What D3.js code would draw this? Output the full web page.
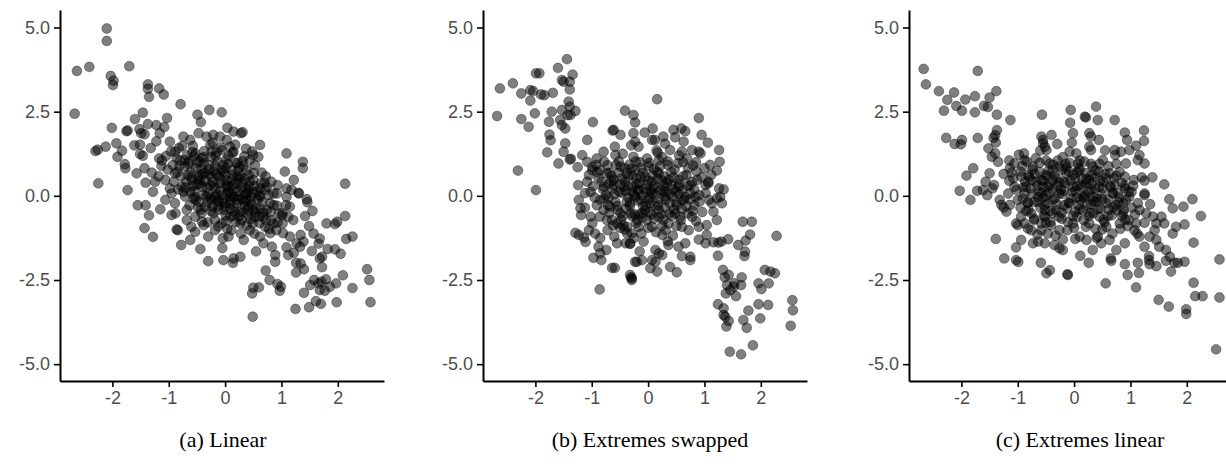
<!DOCTYPE html>
<html>
<head>
<meta charset="utf-8">
<script src="https://cdn.jsdelivr.net/npm/d3@7"></script>
<style>
  body { margin: 0; background: #fff; }
  .axis text { font-family: "Liberation Sans", Arial, sans-serif; font-size: 18px; fill: #4d4d4d; }
  .axis path, .axis line { stroke: #000; }
  .caption { font-family: "Liberation Serif", "DejaVu Serif", serif; font-size: 22px; fill: #000; }
</style>
</head>
<body>
<div id="chart"></div>
<script>
// values, [x, y]
const linearPts = [
[-2.10,4.97],[-2.10,4.60],[-2.63,3.71],[-2.41,3.83],[-2.03,3.56],[-1.98,3.42],[-1.99,3.29],[-1.70,3.85],[-1.37,3.31],[-1.37,3.18],[-1.35,2.94],[-1.17,3.19],[-1.09,3.01],[-0.79,2.72],[-2.67,2.44],[-1.46,2.47],[-1.60,2.28],[-1.03,2.31],[-0.49,2.41],[-0.43,2.19],[-0.28,2.55],[-0.06,2.48],[0.04,2.02],[-2.01,2.02],[-1.73,1.94],[-1.75,1.92],[-1.52,1.98],[-1.49,1.86],[-1.43,1.83],[-1.37,2.13],[-1.22,2.10],[-1.08,2.04],[-1.16,1.86],[-1.93,1.56],[-1.83,1.34],[-1.91,1.16],[-2.12,1.46],[-2.26,1.37],[-2.30,1.33],[-1.61,1.50],[-1.51,1.52],[-1.51,1.24],[-1.46,1.19],[-1.78,0.94],[-1.77,0.82],[-2.25,0.37],[-1.73,0.17],[-1.57,0.67],[-1.43,0.82],[-1.30,0.69],[-1.41,0.39],[-1.24,0.42],[-1.17,1.11],[-1.05,1.18],[-1.13,0.89],[-1.06,0.47],[-0.98,1.61],[-0.89,1.31],[-0.74,1.76],[-0.62,1.66],[-0.47,1.86],[-0.33,1.76],[-0.21,1.81],[-0.09,1.76],[-0.89,0.67],[-0.71,1.06],[-0.53,1.26],[-0.38,0.96],[-0.24,1.16],[-0.06,1.36],[-0.77,0.27],[-0.59,0.47],[-0.41,0.27],[-0.24,0.57],[-0.06,0.77],[0.06,0.27],[-0.95,0.07],[-0.53,-0.03],[-0.18,-0.03],
[0.15,1.91],[0.28,1.86],[0.31,1.89],[0.03,1.66],[0.09,1.46],[0.15,1.31],[0.37,1.40],[0.62,1.51],[0.50,1.21],[0.59,1.16],[0.44,1.06],[0.31,1.03],[1.09,1.26],[1.38,1.01],[1.38,0.82],[1.06,0.72],[1.22,0.47],[0.65,0.69],[2.13,0.36],[0.93,0.32],[1.09,0.22],[1.30,0.09],[1.45,-0.10],[0.86,0.07],[0.38,0.77],[0.21,0.57],[0.03,0.27],[0.50,0.47],[0.62,0.22],[0.74,0.27],[0.09,-0.03],[0.38,0.07],
[-1.55,-0.28],[-1.41,-0.28],[-1.15,-0.40],[-0.95,-0.57],[-1.43,-0.96],[-1.28,-1.22],[-0.84,-1.02],[-0.86,-1.00],[-0.78,-1.46],[-0.62,-1.31],[-0.60,-0.92],[-0.44,-1.58],[-0.30,-1.94],[-0.03,-1.91],[-0.53,-1.07],[-0.38,-0.87],[-0.30,-1.21],[-0.68,-0.42],[-0.53,-0.62],[-0.41,-0.77],[-1.06,-0.12],[-0.89,-0.22],[-0.71,-0.02],[-0.18,-1.02],[-0.06,-0.82],[0.06,-1.21],[-0.12,-0.42],[-0.24,-0.12],[0.00,-0.22],[-0.56,-0.08],[-0.35,-0.32],
[-0.04,-1.26],[0.14,-1.99],[0.15,-1.86],[0.27,-1.81],[1.31,0.07],[1.46,-0.19],[1.42,-0.60],[1.15,-0.32],[1.02,-0.52],[1.21,-0.72],[1.49,-0.90],[1.57,-1.12],[1.68,-1.27],[1.66,-1.42],[1.54,-1.64],[1.68,-1.86],[1.72,-1.81],[1.80,-0.82],[1.95,-0.84],[1.99,-0.77],[2.13,-0.60],[2.15,-1.28],[2.26,-1.21],[1.82,-1.58],[1.95,-1.59],[1.34,-1.16],[1.39,-1.36],[1.33,-1.51],[1.22,-1.69],[1.26,-1.99],[1.34,-2.01],[1.40,-2.18],[1.26,-2.28],[1.09,-1.53],[1.12,-1.76],[0.89,-1.76],[0.89,-1.96],[0.72,-2.22],[0.79,-2.50],[0.93,-2.62],[0.99,-2.70],[0.97,-2.82],[0.50,-2.73],[0.48,-2.90],[0.60,-2.72],[0.49,-3.59],[1.25,-3.36],[1.40,-2.88],[1.49,-3.31],[1.61,-3.13],[1.70,-3.21],[1.51,-2.65],[1.58,-2.50],[1.66,-2.60],[1.71,-2.55],[1.79,-2.48],[1.68,-2.80],[1.77,-2.82],[1.86,-2.70],[1.97,-2.60],[2.09,-2.36],[1.98,-3.16],[2.26,-2.74],[2.52,-2.18],[2.56,-2.50],[2.58,-3.16],[0.15,-0.03],[0.38,-0.12],[0.62,-0.03],[0.80,-0.22],[0.92,0.07],[1.09,-0.03],[0.50,-0.42],[0.68,-0.62],[0.86,-0.82],[1.03,-1.11],[1.15,-1.21],[1.27,-1.41],[0.27,-0.82],[0.09,-0.62],[0.44,-1.02],[0.62,-1.21],[0.80,-1.11],[0.33,-1.31],[0.68,-1.41],[0.83,-1.51],
[-0.82,1.42],[-0.68,1.21],[-0.57,1.48],[-0.46,1.02],[-0.37,1.33],[-0.26,1.52],[-0.17,1.18],[-0.08,1.44],[0.02,1.08],[0.13,1.27],[0.22,0.98],[0.34,1.17],[-0.93,0.91],[-0.78,0.58],[-0.72,0.88],[-0.61,0.71],[-0.48,0.52],[-0.42,0.79],[-0.29,0.63],[-0.18,0.88],[-0.11,0.58],[0.01,0.83],[0.12,0.49],[0.23,0.74],[0.31,0.38],[0.42,0.62],[0.53,0.91],[-0.83,0.19],[-0.69,0.42],[-0.62,0.12],[-0.51,0.33],[-0.39,0.03],[-0.32,0.24],[-0.22,0.41],[-0.09,0.14],[0.02,0.33],[0.11,0.04],[0.19,0.23],[0.29,-0.08],[0.41,0.13],[0.52,0.29],[0.61,0.02],[0.71,0.18],[-0.63,-0.28],[-0.52,-0.12],[-0.43,-0.41],[-0.31,-0.19],[-0.21,-0.52],[-0.12,-0.29],[0.01,-0.58],[0.09,-0.38],[0.21,-0.21],[0.32,-0.49],[0.41,-0.31],[0.52,-0.63],[0.63,-0.38],[0.72,-0.71],[0.81,-0.48],[0.92,-0.29],[-0.31,-0.79],[-0.12,-0.91],[0.11,-1.02],[0.19,-0.78],[0.38,-0.88],[0.52,-1.12],[0.61,-0.81],[0.78,-0.98],[0.93,-0.79],[1.01,-0.58],[-0.15,0.02],[0.25,0.52],[-0.45,0.61],[0.45,-0.15],[-0.05,-0.15],[0.15,-0.60],
[-1.12,1.05],[-1.02,0.78],[-0.96,1.32],[-0.91,0.42],[-0.86,1.12],[-0.81,0.88],[-0.76,1.48],[-0.74,0.12],[-0.66,0.62],[-0.64,1.02],[-0.58,0.28],[-0.55,1.18],[-0.52,0.82],[-0.47,-0.18],[-0.44,0.46],[-0.41,1.12],[-0.36,0.68],[-0.34,-0.02],[-0.29,0.92],[-0.27,0.32],[-0.24,1.32],[-0.22,-0.32],[-0.19,0.72],[-0.16,0.22],[-0.14,1.02],[-0.11,-0.12],[-0.07,0.48],[-0.04,0.92],[-0.02,-0.42],[0.01,0.62],[0.04,0.08],[0.06,1.18],[0.08,-0.22],[0.12,0.78],[0.14,0.32],[0.17,-0.48],[0.19,0.98],[0.22,0.12],[0.24,-0.12],[0.27,0.58],[0.29,-0.72],[0.32,0.88],[0.35,-0.32],[0.37,0.22],[0.41,-0.58],[0.44,0.42],[0.46,-0.02],[0.49,-0.82],[0.51,0.68],[0.55,-0.38],[0.57,0.12],[0.61,-0.62],[0.64,0.38],[0.66,-0.18],[0.71,-0.92],[0.74,-0.42],[0.77,0.02],[0.82,-0.72],[0.86,-0.28],[0.91,-1.02],[0.96,-0.52],[1.02,-0.82],[1.08,-0.28],[1.12,-0.62],[-0.98,0.22],[-1.18,0.58],[-0.68,-0.72],[-0.42,-0.52],[-0.18,-0.72],[0.04,-0.98],[0.28,-1.12],[-0.88,-0.52],[-0.22,1.58],[0.18,1.52],[0.48,1.32],[0.72,0.58],[0.82,0.42],[1.18,0.18],[-1.32,1.42],[-1.22,1.62],[-1.28,0.12],[-1.35,-0.58],[1.55,-0.45],[1.72,-2.12],[2.05,-1.72],[-0.05,-1.55],[0.55,-1.65],
[-0.65,0.95],[-0.60,0.55],[-0.55,0.15],[-0.50,0.98],[-0.45,0.35],[-0.40,0.65],[-0.35,0.45],[-0.30,0.05],[-0.28,0.78],[-0.25,-0.05],[-0.20,0.28],[-0.15,0.65],[-0.13,-0.18],[-0.10,0.38],[-0.05,0.02],[-0.03,0.72],[0.00,-0.32],[0.03,0.45],[0.06,0.12],[0.10,-0.12],[0.13,0.62],[0.16,-0.35],[0.20,0.38],[0.23,-0.02],[0.26,-0.48],[0.30,0.25],[0.33,-0.18],[0.36,0.05],[0.40,-0.42],[0.43,0.28],[0.47,-0.25],[0.50,0.10],[0.54,-0.50],[0.58,-0.10],[-0.70,0.25],[-0.58,1.30],[-0.38,1.15],[-0.15,1.30],[0.05,0.95],[0.25,0.85],[-0.48,-0.35],[-0.25,-0.45],[0.02,-0.75],[0.25,-0.60],[0.45,-0.70],[0.68,-0.50],[0.70,0.40],[-0.85,0.70],[-0.80,1.05],[0.35,0.50]
];

const swappedPts = [
[-1.44,4.06],[-1.60,3.80],[-1.34,3.60],[-1.99,3.64],[-1.93,3.64],[-1.53,3.44],[-1.50,3.39],[-1.39,3.39],[-1.39,3.16],[-2.40,3.34],[-2.63,3.19],[-2.25,3.04],[-2.09,3.14],[-2.04,3.11],[-1.90,3.01],[-1.84,2.99],[-1.69,3.06],[-2.09,2.83],[-1.41,2.80],[-1.39,2.65],[-1.43,2.40],[-1.38,2.40],[-1.29,2.52],[-1.53,2.55],[-1.71,2.50],[-2.01,2.45],[-2.68,2.37],[-2.25,2.28],[-2.12,2.05],[-1.76,2.20],[-1.56,2.25],[-1.53,2.10],[-1.47,2.00],[-0.98,2.19],[-0.41,2.53],[-0.26,2.40],[-1.75,1.82],[-1.73,1.65],[-1.08,1.66],[-1.47,1.56],[-1.79,1.29],[-1.50,1.31],[-1.39,1.08],[-1.37,1.10],[-1.59,0.96],[-0.61,1.96],[-0.63,1.94],[-0.49,1.81],[-0.26,1.86],[-0.59,1.46],[-0.58,1.21],[-0.79,1.31],[-1.17,1.21],[-1.08,1.01],[-0.99,0.86],[-0.91,1.11],[-0.99,0.76],[-2.31,0.75],[-1.99,0.17],[-1.24,0.32],[-1.02,0.12],[-0.85,0.76],[-0.73,0.67],[-0.79,0.27],[-0.61,0.47],[-0.49,0.87],[-0.38,0.67],[-0.26,1.16],[-0.43,0.27],[-0.26,0.27],
[0.16,2.87],[0.90,2.31],[-0.23,2.18],[0.08,2.00],[-0.06,1.88],[-0.23,1.61],[0.27,1.76],[0.45,1.96],[0.59,2.00],[0.66,1.92],[0.48,1.74],[0.95,1.81],[1.06,1.58],[1.26,1.36],[1.27,1.01],[1.22,0.75],[1.10,0.92],[1.00,0.82],[1.07,0.37],[0.63,1.61],[0.78,1.36],[0.90,1.31],[0.93,1.26],[0.69,1.11],[0.07,1.66],[0.12,1.66],[-0.17,1.46],[0.17,1.28],[0.39,1.36],[0.60,1.31],[0.53,0.97],[0.19,1.06],[-0.02,1.11],[0.87,0.47],[0.75,0.32],[1.07,0.42],[1.26,0.22],[1.34,0.19],[1.22,-0.07],[-0.23,0.77],[-0.05,0.57],[0.19,0.67],[0.36,0.47],[0.54,0.27],[-0.17,0.17],[0.07,0.07],[0.30,0.12],[0.66,-0.03],
[-1.23,-0.12],[-1.20,-0.37],[-1.19,-0.57],[-1.29,-1.10],[-1.23,-1.16],[-1.14,-1.24],[-1.11,-1.37],[-1.05,-1.02],[-0.99,-0.82],[-1.02,-0.62],[-0.94,-1.12],[-0.88,-1.51],[-0.85,-1.71],[-0.97,-1.84],[-0.83,-1.91],[-0.74,-1.61],[-0.64,-2.14],[-0.59,-2.14],[-0.60,-1.21],[-0.55,-1.41],[-0.40,-1.41],[-0.32,-1.41],[-0.29,-1.12],[-0.37,-1.12],[-0.30,-2.42],[-0.29,-2.50],[-0.86,-2.78],[-0.23,-1.96],[-0.85,-0.12],[-0.67,-0.32],[-0.49,-0.52],[-0.32,-0.22],[-0.73,-0.72],[-0.55,-0.82],[-0.37,-0.92],[-0.79,-0.42],
[1.68,-0.77],[1.84,-0.77],[2.28,-1.19],[1.81,-1.15],[1.73,-1.33],[1.60,-1.46],[1.72,-1.66],[1.71,-1.79],[1.42,-1.29],[1.30,-1.36],[1.25,-1.39],[1.04,-1.16],[1.02,-1.41],[1.16,-1.38],[1.24,-1.78],[1.33,-2.20],[1.36,-2.42],[1.43,-2.35],[1.40,-2.65],[1.53,-2.60],[1.66,-2.42],[1.65,-2.65],[1.56,-2.98],[1.38,-2.90],[1.52,-2.70],[1.46,-2.80],[2.07,-2.20],[2.17,-2.25],[2.25,-2.30],[1.96,-2.60],[2.01,-2.77],[2.14,-2.60],[2.56,-3.10],[2.57,-3.40],[2.53,-3.86],[1.24,-3.22],[1.34,-3.34],[1.37,-3.59],[1.34,-3.54],[1.39,-3.88],[1.43,-3.72],[1.78,-3.41],[1.69,-3.69],[1.75,-3.92],[1.96,-3.22],[1.99,-3.64],[2.13,-3.24],[1.45,-4.63],[1.65,-4.71],[1.86,-4.44],[0.39,-2.11],[0.51,-2.27],[0.16,-2.25],[0.04,-2.15],[-0.20,-1.96],[-0.11,-1.91],[-0.29,-2.45],[-0.32,-2.35],[0.75,-1.91],[0.75,-1.81],[0.60,-1.79],[0.54,-1.51],[0.66,-1.41],[0.36,-1.46],[0.25,-1.76],[0.13,-1.61],[0.19,-1.71],[0.07,-1.91],[0.13,-1.96],[0.25,-1.16],[-0.08,-1.36],[-0.32,-1.43],[1.28,-0.03],[1.31,-0.22],[1.16,-0.47],[1.22,-0.72],[1.04,-0.87],[0.90,-0.92],[0.72,-1.02],[1.13,-0.22],[-0.23,-0.03],[0.01,-0.12],[0.30,-0.03],[0.60,-0.12],[0.84,-0.03],[-0.11,-0.52],[0.19,-0.62],[0.48,-0.52],[0.78,-0.62],[-0.17,-0.92],[0.07,-0.92],[0.36,-0.82],[0.60,-0.92],
[-0.88,0.52],[-0.72,0.91],[-0.63,0.21],[-0.52,0.68],[-0.41,0.42],[-0.33,0.93],[-0.21,0.51],[-0.12,0.82],[-0.02,0.33],[0.08,0.61],[0.21,0.88],[0.28,0.29],[0.41,0.71],[0.49,0.12],[0.62,0.58],[0.71,0.82],[0.82,0.19],[-0.91,-0.28],[-0.78,-0.09],[-0.69,-0.51],[-0.58,-0.18],[-0.47,0.08],[-0.39,-0.38],[-0.28,-0.61],[-0.18,0.18],[-0.09,-0.31],[0.03,-0.48],[0.11,0.22],[0.18,-0.28],[0.27,-0.71],[0.38,-0.22],[0.46,-0.41],[0.55,0.06],[0.68,-0.31],[0.79,-0.45],[0.91,-0.18],[-0.62,-0.88],[-0.48,-0.71],[-0.21,-0.81],[-0.02,-0.72],[0.14,-1.08],[0.31,-1.02],[0.44,-1.18],[0.58,-0.72],[-0.72,-1.02],[-0.12,-1.12],[-0.52,1.02],[0.02,0.98],[0.35,1.02],[-0.35,-0.05],[0.05,0.15],[-0.15,-0.55],[0.25,0.45],[-0.65,0.45],[0.95,0.55],[1.02,0.08],[-1.08,0.42],[-1.12,-0.35],[0.85,-0.75],[-0.42,-1.00],
[-1.05,0.62],[-0.98,0.28],[-0.95,-0.05],[-0.92,0.92],[-0.86,-0.62],[-0.82,0.42],[-0.78,1.02],[-0.75,0.02],[-0.71,-0.28],[-0.68,0.68],[-0.64,-0.72],[-0.61,0.32],[-0.57,0.92],[-0.54,-0.42],[-0.51,0.12],[-0.47,0.52],[-0.44,-0.88],[-0.41,0.82],[-0.38,-0.18],[-0.35,0.28],[-0.31,-0.52],[-0.28,0.62],[-0.25,0.02],[-0.22,1.02],[-0.19,-0.72],[-0.16,0.38],[-0.13,-0.12],[-0.09,0.68],[-0.06,-0.42],[-0.03,0.12],[0.01,0.88],[0.04,-0.22],[0.07,0.42],[0.10,-0.68],[0.13,0.02],[0.16,0.72],[0.19,-0.42],[0.22,0.18],[0.25,-0.88],[0.28,0.58],[0.31,-0.12],[0.35,0.92],[0.38,-0.52],[0.41,0.32],[0.44,-0.02],[0.47,0.78],[0.51,-0.28],[0.54,0.48],[0.57,-0.62],[0.61,0.18],[0.64,-0.12],[0.68,0.62],[0.71,-0.52],[0.75,0.08],[0.78,0.42],[0.82,-0.28],[0.86,0.72],[0.91,0.02],[0.96,-0.48],[1.02,0.32],[1.08,-0.12],[1.12,0.62],[-1.12,0.08],[-0.45,1.25],[0.15,1.35],[0.55,1.20],[-0.85,-1.25],[-0.25,-1.25],[0.35,-1.35],[0.90,-1.30],[-1.25,0.85],[-0.30,1.50],[0.30,1.55],[-0.15,-1.65],[0.85,1.00],
[-0.60,0.05],[-0.55,-0.30],[-0.50,0.35],[-0.45,-0.60],[-0.40,0.15],[-0.35,0.55],[-0.32,-0.30],[-0.28,0.10],[-0.24,-0.55],[-0.20,0.35],[-0.17,-0.15],[-0.13,0.55],[-0.10,-0.65],[-0.07,0.20],[-0.04,-0.30],[0.00,0.45],[0.03,-0.05],[0.06,-0.55],[0.10,0.30],[0.13,-0.30],[0.17,0.50],[0.20,-0.10],[0.24,-0.55],[0.27,0.15],[0.30,-0.35],[0.34,0.40],[0.38,0.05],[0.42,-0.60],[0.45,0.20],[0.50,-0.20],[0.55,0.35],[0.60,-0.40],[-0.70,-0.05],[-0.65,0.60],[-0.30,0.80],[0.10,0.80],[0.45,0.55],[0.70,0.30],[-0.50,-0.95],[0.00,-0.95],[0.50,-0.90],[0.75,-0.10],[-0.80,0.20],[-0.90,0.70],[-0.15,1.00],[0.25,1.15],[0.80,0.90],[0.62,1.00],[-0.70,0.35],[-0.10,0.00]
];

const extremesPts = [
[-2.67,3.77],[-2.63,3.31],[-1.71,3.71],[-2.40,3.11],[-2.13,3.07],[-2.25,2.85],[-2.09,2.67],[-2.31,2.53],[-1.99,2.53],[-1.93,2.86],[-1.76,2.96],[-1.76,2.48],[-1.60,2.67],[-1.50,2.92],[-1.38,3.11],[-1.53,2.64],[-1.37,2.41],[-1.13,2.25],[-0.57,2.41],[-2.27,1.72],[-2.12,1.54],[-2.01,1.53],[-1.99,1.66],[-1.71,1.72],[-1.37,1.95],[-1.40,1.80],[-1.43,1.72],[-1.39,1.58],[-1.52,1.41],[-1.46,1.16],[-1.40,1.26],[-1.35,1.01],[-1.50,0.67],[-1.57,0.42],[-1.62,0.17],[-1.42,0.32],[-1.45,0.22],[-1.79,0.82],[-1.91,0.60],[-2.03,0.15],[-1.84,-0.12],[-1.72,0.15],[-1.14,0.82],[-1.11,0.69],[-1.06,0.96],[-0.89,1.26],[-0.88,1.06],[-0.58,1.76],[-0.55,1.56],[-0.52,1.46],[-0.73,0.87],[-0.58,0.47],[-0.76,0.47],[-0.94,0.57],[-1.06,0.27],[-0.88,0.07],[-1.17,0.07],[-0.64,-0.03],[-0.47,0.27],
[-0.06,2.55],[0.39,2.65],[0.19,2.35],[0.21,2.33],[0.42,2.25],[0.72,2.25],[-0.07,2.17],[-0.02,1.86],[-0.04,1.58],[0.27,1.86],[0.30,1.76],[0.44,1.66],[0.27,1.46],[0.30,1.36],[0.90,1.88],[1.24,1.94],[1.24,1.63],[0.94,1.66],[1.10,1.49],[0.72,1.36],[0.73,1.21],[0.83,1.31],[0.98,1.36],[1.16,1.21],[1.13,1.06],[0.92,0.96],[1.25,0.96],[-0.40,1.81],[-0.30,1.54],[-0.55,1.66],[-0.49,1.36],[-0.08,1.31],[0.04,1.26],[0.07,0.96],[1.60,0.34],[1.39,0.55],[1.25,0.45],[1.06,0.47],[0.90,0.57],[0.90,0.22],[0.97,0.12],[1.25,0.07],[1.69,-0.10],[2.10,-0.10],[-0.43,0.96],[-0.26,0.87],[-0.38,0.47],[-0.14,0.67],[0.10,0.77],[0.33,0.87],[0.51,1.06],[0.63,0.67],[0.27,0.47],[0.45,0.27],[0.69,0.07],[-0.02,0.27],[-0.26,0.07],[-0.55,0.27],[0.16,-0.03],
[-1.54,0.02],[-1.29,-0.27],[-1.20,-0.47],[-1.14,-0.27],[-1.32,-0.12],[-1.39,-1.28],[-1.24,-1.86],[-1.03,-1.53],[-0.94,-1.31],[-1.03,-1.91],[-0.99,-1.96],[-1.00,-0.87],[-1.03,-0.82],[-0.82,-0.97],[-0.76,-1.02],[-0.73,-1.41],[-0.64,-1.36],[-0.52,-1.41],[-0.59,-1.99],[-0.49,-2.30],[-0.43,-2.21],[-0.94,-0.62],[-0.76,-0.52],[-0.58,-0.82],[-0.47,-1.12],[-1.00,-0.12],[-0.82,-0.22],[-0.52,-0.42],
[-0.58,-1.02],[-0.52,-0.62],[-0.38,-0.52],[-0.11,-2.35],[-0.12,-2.33],[0.11,-1.78],[0.26,-1.99],[0.56,-2.60],[0.65,-1.86],[0.66,-1.93],[0.90,-2.03],[0.95,-2.35],[1.10,-2.72],[1.15,-2.29],[1.13,-1.99],[1.33,-1.79],[1.34,-2.03],[1.46,-2.09],[1.33,-1.91],[1.63,-1.93],[1.72,-2.25],[1.78,-1.99],[1.84,-1.99],[1.96,-1.96],[1.70,-1.81],[2.12,-2.58],[2.15,-2.98],[2.28,-2.98],[2.58,-1.89],[2.58,-3.02],[1.50,-3.09],[1.68,-3.29],[1.99,-3.37],[1.99,-3.51],[2.52,-4.56],[2.12,-1.39],[1.96,-0.85],[2.25,-0.60],[1.94,-0.32],[1.75,-0.37],[1.81,-0.92],[1.75,-1.12],[1.60,-0.82],[1.63,-1.61],[1.51,-1.51],[1.46,-1.31],[1.25,0.02],[1.13,-0.22],[1.16,-0.42],[1.28,-0.52],[1.40,-0.62],[1.10,-0.82],[1.07,-1.02],[1.16,-1.21],[1.34,-1.21],[1.43,-1.02],[1.46,-0.82],[1.55,-0.62],[1.25,-1.51],[0.81,-0.82],[0.90,-1.41],[0.75,-1.61],[0.63,-1.31],[0.48,-1.41],[0.33,-1.61],[0.42,-1.21],[0.57,-0.92],[0.75,-0.42],[0.87,-0.52],[0.98,-0.03],[0.87,-0.22],[-0.26,-1.56],[-0.35,-1.46],[-0.20,-1.61],[0.10,-1.21],[0.22,-1.31],[-0.02,-0.82],[-0.26,-1.02],[0.27,-0.82],[0.45,-0.62],[0.16,-0.42],[-0.08,-0.22],[-0.38,-0.12],[0.57,-0.22],[0.33,-0.03],
[-0.92,0.88],[-0.81,0.62],[-0.68,1.12],[-0.61,0.71],[-0.48,0.58],[-0.38,0.78],[-0.29,1.05],[-0.18,0.42],[-0.09,0.72],[0.02,0.52],[0.12,0.31],[0.21,0.68],[0.31,0.18],[0.38,0.55],[0.52,0.41],[0.61,0.88],[0.72,0.32],[0.81,0.71],[-0.95,-0.35],[-0.85,0.28],[-0.71,-0.18],[-0.62,0.12],[-0.53,-0.28],[-0.44,0.08],[-0.32,-0.42],[-0.21,0.05],[-0.13,-0.38],[-0.03,0.12],[0.08,-0.28],[0.19,0.02],[0.28,-0.51],[0.39,-0.18],[0.49,0.05],[0.61,-0.41],[0.68,0.08],[0.79,-0.18],[0.91,-0.71],[-0.88,-0.82],[-0.71,-0.68],[-0.42,-0.78],[-0.22,-0.68],[-0.12,-1.02],[0.05,-0.62],[0.21,-0.92],[0.38,-0.98],[0.52,-0.71],[0.68,-1.12],[-0.33,-1.18],[0.02,-1.28],[-0.15,0.95],[0.18,1.02],[0.45,0.95],[-0.55,-0.05],[0.05,-0.05],[-0.30,0.30],[0.30,-0.25],[-0.82,-0.20],[1.02,-0.35],[1.05,0.30],[-1.15,0.45],
[-1.15,1.05],[-1.08,0.52],[-1.02,0.18],[-0.98,1.22],[-0.95,0.72],[-0.91,-0.08],[-0.87,0.42],[-0.84,1.02],[-0.81,-0.42],[-0.77,0.22],[-0.74,0.78],[-0.71,-0.72],[-0.67,0.42],[-0.64,-0.18],[-0.61,0.98],[-0.57,0.08],[-0.54,-0.58],[-0.51,0.62],[-0.47,-0.22],[-0.44,0.32],[-0.41,-0.88],[-0.37,0.92],[-0.34,-0.08],[-0.31,0.52],[-0.27,-0.62],[-0.24,0.18],[-0.21,0.78],[-0.18,-0.28],[-0.15,0.38],[-0.11,-0.78],[-0.08,0.98],[-0.05,-0.08],[-0.02,0.62],[0.02,-0.48],[0.05,0.28],[0.08,0.82],[0.11,-0.12],[0.14,0.52],[0.17,-0.72],[0.21,0.38],[0.24,-0.28],[0.27,0.12],[0.31,0.62],[0.34,-0.52],[0.37,0.22],[0.41,-0.08],[0.44,0.72],[0.47,-0.38],[0.51,0.22],[0.54,-0.78],[0.57,0.52],[0.61,-0.12],[0.64,0.28],[0.67,-0.58],[0.71,0.52],[0.74,-0.28],[0.78,0.08],[0.82,-0.98],[0.85,0.38],[0.88,-0.42],[0.92,-0.12],[0.97,-0.72],[1.02,0.12],[1.08,-0.55],[1.12,-1.12],[-1.25,-0.35],[-1.25,0.65],[-0.60,1.35],[0.10,1.05],[0.55,1.35],[1.35,-0.25],[-0.20,-1.30],[0.40,-1.25],[-0.65,-1.15],[1.25,-0.80],[1.20,0.55],
[-0.80,0.55],[-0.75,0.05],[-0.70,0.65],[-0.65,0.30],[-0.60,-0.35],[-0.55,0.45],[-0.50,0.00],[-0.45,0.75],[-0.42,-0.45],[-0.38,0.20],[-0.35,0.60],[-0.30,-0.25],[-0.26,0.40],[-0.22,-0.50],[-0.18,0.15],[-0.14,0.85],[-0.10,-0.20],[-0.06,0.45],[-0.02,-0.60],[0.02,0.15],[0.06,0.70],[0.10,-0.40],[0.14,0.25],[0.18,-0.05],[0.22,0.50],[0.26,-0.60],[0.30,0.35],[0.34,-0.15],[0.38,0.75],[0.42,-0.40],[0.46,0.45],[0.50,-0.10],[0.55,0.65],[0.60,-0.60],[0.65,0.25],[0.70,-0.35],[0.75,0.60],[0.80,-0.05],[-0.90,0.25],[-0.85,-0.45],[0.90,0.30],[0.85,-0.60],[-0.50,1.05],[-0.20,1.15],[0.30,0.95],[0.75,0.95],[-0.50,-0.80],[0.00,-0.95],[0.50,-1.00],[0.95,-0.90]
];

const captions = ["(a) Linear", "(b) Extremes swapped", "(c) Extremes linear"];
const xTicks = [-2, -1, 0, 1, 2];
const yTicks = [-5, -2.5, 0, 2.5, 5];

const W = 1226, H = 472;
const panelLeft = [60, 483, 909];
const captionX = [223, 650, 1080];
const plotW = 324, plotTop = 10, plotBottom = 381;

const svg = d3.select("#chart").append("svg")
    .attr("width", W).attr("height", H)
    .style("background", "#fff");

const panels = [linearPts, swappedPts, extremesPts];

panels.forEach((pts, i) => {
    const x0 = panelLeft[i];
    const x = d3.scaleLinear().domain([-2.93, 2.82]).range([x0, x0 + plotW]);
    const y = d3.scaleLinear().domain([-5.5, 5.52]).range([plotBottom, plotTop]);

    const g = svg.append("g");

    g.append("g").selectAll("circle")
        .data(pts)
        .join("circle")
        .attr("cx", d => x(d[0]))
        .attr("cy", d => y(d[1]))
        .attr("r", 4.9)
        .attr("fill", "#000")
        .attr("fill-opacity", 0.5)
        .attr("stroke", "#000")
        .attr("stroke-opacity", 0.35)
        .attr("stroke-width", 1);

    const yAxis = g.append("g").attr("class", "axis")
        .attr("transform", `translate(${x0},0)`)
        .call(d3.axisLeft(y).tickValues(yTicks).tickFormat(d => d.toFixed(1)).tickSize(6).tickSizeOuter(0).tickPadding(4));
    const xAxis = g.append("g").attr("class", "axis")
        .attr("transform", `translate(0,${plotBottom})`)
        .call(d3.axisBottom(x).tickValues(xTicks).tickFormat(d => String(d)).tickSize(6).tickSizeOuter(0).tickPadding(4));

    [yAxis, xAxis].forEach(a => {
        a.select(".domain").attr("stroke-width", 2);
        a.selectAll(".tick line").attr("stroke-width", 1.6);
    });

    svg.append("text").attr("class", "caption")
        .attr("x", captionX[i]).attr("y", 447)
        .attr("text-anchor", "middle")
        .text(captions[i]);
});
</script>
</body>
</html>
